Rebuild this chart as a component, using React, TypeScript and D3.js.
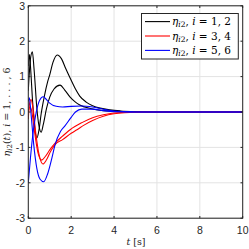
import React from "react";
import * as d3 from "d3";

const xTicks = [0, 2, 4, 6, 8, 10];
const yTicks = [-3, -2, -1, 0, 1, 2, 3];

// black, i = 1,2
const black1T = [0, 0.05, 0.1, 0.2, 0.3, 0.4, 0.5, 0.6, 0.75, 0.9, 1.0, 1.15, 1.35, 1.55, 1.75, 1.95, 2.2, 2.4, 2.7, 3.0, 3.35, 3.8, 4.3, 5, 6, 10];
const black1V = [1.3, 1.62, 1.3, 0.3, -0.45, -0.73, -0.5, -0.05, 0.45, 0.85, 1.05, 1.4, 1.61, 1.5, 1.22, 0.96, 0.65, 0.45, 0.28, 0.18, 0.11, 0.06, 0.03, 0.01, 0, 0];
const black2T = [0, 0.1, 0.19, 0.27, 0.4, 0.5, 0.6, 0.7, 0.85, 1.0, 1.2, 1.48, 1.7, 1.95, 2.2, 2.4, 2.9, 3.5, 4, 5, 10];
const black2V = [0.6, 1.5, 1.7, 1.2, 0.1, -0.4, -0.57, -0.35, 0.1, 0.42, 0.65, 0.76, 0.62, 0.42, 0.28, 0.2, 0.1, 0.04, 0.02, 0, 0];
// red, i = 3,4
const red1T = [0, 0.05, 0.13, 0.22, 0.35, 0.5, 0.68, 0.85, 1.05, 1.25, 1.6, 2.0, 2.27, 2.6, 3.0, 3.5, 4.0, 4.5, 5.5, 10];
const red1V = [-0.2, 0.2, 0.35, 0.1, -0.6, -1.2, -1.47, -1.35, -1.1, -0.92, -0.78, -0.6, -0.5, -0.37, -0.24, -0.12, -0.05, -0.02, 0, 0];
const red2T = [0, 0.08, 0.15, 0.3, 0.45, 0.62, 0.8, 1.0, 1.25, 1.6, 1.95, 2.5, 3.0, 3.5, 4.0, 5.0, 10];
const red2V = [0.0, 0.15, 0.05, -0.6, -1.15, -1.36, -1.25, -1.07, -0.88, -0.68, -0.5, -0.3, -0.16, -0.08, -0.03, 0, 0];
// blue, i = 5,6
const blue1T = [0, 0.1, 0.2, 0.3, 0.45, 0.6, 0.7, 0.85, 1.0, 1.3, 1.6, 2.0, 2.5, 3.0, 3.5, 4.0, 4.5, 5.0, 10];
const blue1V = [-2.0, -1.3, -0.7, -0.25, 0.2, 0.4, 0.43, 0.35, 0.25, 0.16, 0.14, 0.16, 0.17, 0.14, 0.08, 0.03, 0.01, 0, 0];
const blue2T = [0, 0.05, 0.12, 0.25, 0.4, 0.55, 0.72, 0.9, 1.1, 1.25, 1.5, 1.7, 2.0, 2.2, 2.5, 3.0, 3.5, 4.0, 5.0, 10];
const blue2V = [0.3, 0.4, 0.0, -0.9, -1.6, -1.9, -1.97, -1.75, -1.3, -0.92, -0.55, -0.4, -0.15, 0.0, 0.08, 0.08, 0.04, 0.01, 0, 0];

const series = [
  { t: black1T, v: black1V, color: "#000000" },
  { t: black2T, v: black2V, color: "#000000" },
  { t: red1T, v: red1V, color: "#ff0000" },
  { t: red2T, v: red2V, color: "#ff0000" },
  { t: blue1T, v: blue1V, color: "#0000ff" },
  { t: blue2T, v: blue2V, color: "#0000ff" },
];

const legendItems = [
  { label: "1, 2", color: "#000000" },
  { label: "3, 4", color: "#ff0000" },
  { label: "5, 6", color: "#0000ff" },
];

export default function App() {
  const W = 249, H = 249;
  const L = 28.3, R = 242.7, T = 5.8, B = 218.2;
  const x = d3.scaleLinear().domain([0, 10]).range([L, R]);
  const y = d3.scaleLinear().domain([-3, 3]).range([B, T]);
  const line = d3
    .line<[number, number]>()
    .x((d) => x(d[0]))
    .y((d) => y(d[1]))
    .curve(d3.curveMonotoneX);
  const sans = "'Liberation Sans', Arial, sans-serif";
  const serif = "'DejaVu Serif', 'Liberation Serif', serif";
  return (
    <svg
      width={W}
      height={H}
      style={{ position: "absolute", left: 0, top: 0, background: "#fff" }}
    >
      <rect x={0} y={0} width={W} height={H} fill="#fff" />
      <defs>
        <clipPath id="plotclip">
          <rect x={L} y={T} width={R - L} height={B - T} />
        </clipPath>
      </defs>
      {xTicks.map((t) => (
        <line key={"gx" + t} x1={x(t)} x2={x(t)} y1={T} y2={B} stroke="#e3e3e3" strokeWidth={1} />
      ))}
      {yTicks.map((t) => (
        <line key={"gy" + t} x1={L} x2={R} y1={y(t)} y2={y(t)} stroke="#e3e3e3" strokeWidth={1} />
      ))}
      <g clipPath="url(#plotclip)">
        {series.map((s, i) => (
          <path
            key={i}
            d={line(s.t.map((t, j) => [t, s.v[j]] as [number, number])) || ""}
            fill="none"
            stroke={s.color}
            strokeWidth={1.1}
          />
        ))}
      </g>
      <rect x={L} y={T} width={R - L} height={B - T} fill="none" stroke="#262626" strokeWidth={1} />
      {xTicks.map((t) => (
        <g key={"tx" + t}>
          <line x1={x(t)} x2={x(t)} y1={B} y2={B - 2.2} stroke="#262626" />
          <line x1={x(t)} x2={x(t)} y1={T} y2={T + 2.2} stroke="#262626" />
          <text x={x(t)} y={234} fontSize={10.5} fontFamily={sans} textAnchor="middle" fill="#262626">
            {t}
          </text>
        </g>
      ))}
      {yTicks.map((t) => (
        <g key={"ty" + t}>
          <line x1={L} x2={L + 2.2} y1={y(t)} y2={y(t)} stroke="#262626" />
          <line x1={R} x2={R - 2.2} y1={y(t)} y2={y(t)} stroke="#262626" />
          <text x={25} y={y(t) + 3.7} fontSize={10.5} fontFamily={sans} textAnchor="end" fill="#262626">
            {t}
          </text>
        </g>
      ))}
      <text x={136} y={245} fontSize={9.5} fontFamily={serif} textAnchor="middle" fill="#262626">
        <tspan fontStyle="italic">t</tspan> [s]
      </text>
      <text
        transform={`translate(10,${(T + B) / 2}) rotate(-90)`}
        fontSize={9.5}
        fontFamily={serif}
        textAnchor="middle"
        fill="#262626"
      >
        <tspan fontStyle="italic">η</tspan>
        <tspan fontStyle="italic" fontSize={7} dy={2}>i</tspan>
        <tspan fontSize={7}>2</tspan>
        <tspan dy={-2}>(</tspan>
        <tspan fontStyle="italic">t</tspan>
        <tspan>),  </tspan>
        <tspan fontStyle="italic">i</tspan>
        <tspan> = 1, . . . , 6</tspan>
      </text>
      <g>
        <rect x={141.5} y={13.5} width={96.8} height={45.5} fill="#fff" stroke="#262626" strokeWidth={1} />
        {legendItems.map((it, i) => {
          const yy = 21.6 + i * 14.4;
          return (
            <g key={i}>
              <line x1={145} x2={170} y1={yy} y2={yy} stroke={it.color} strokeWidth={1.1} />
              <text x={172} y={yy + 3.5} fontSize={10.5} fontFamily={serif} fill="#000">
                <tspan fontStyle="italic">η</tspan>
                <tspan fontStyle="italic" fontSize={7.5} dy={2}>i</tspan>
                <tspan fontSize={7.5}>2</tspan>
                <tspan dy={-2}>,  </tspan>
                <tspan fontStyle="italic">i</tspan>
                <tspan> = {it.label}</tspan>
              </text>
            </g>
          );
        })}
      </g>
    </svg>
  );
}
